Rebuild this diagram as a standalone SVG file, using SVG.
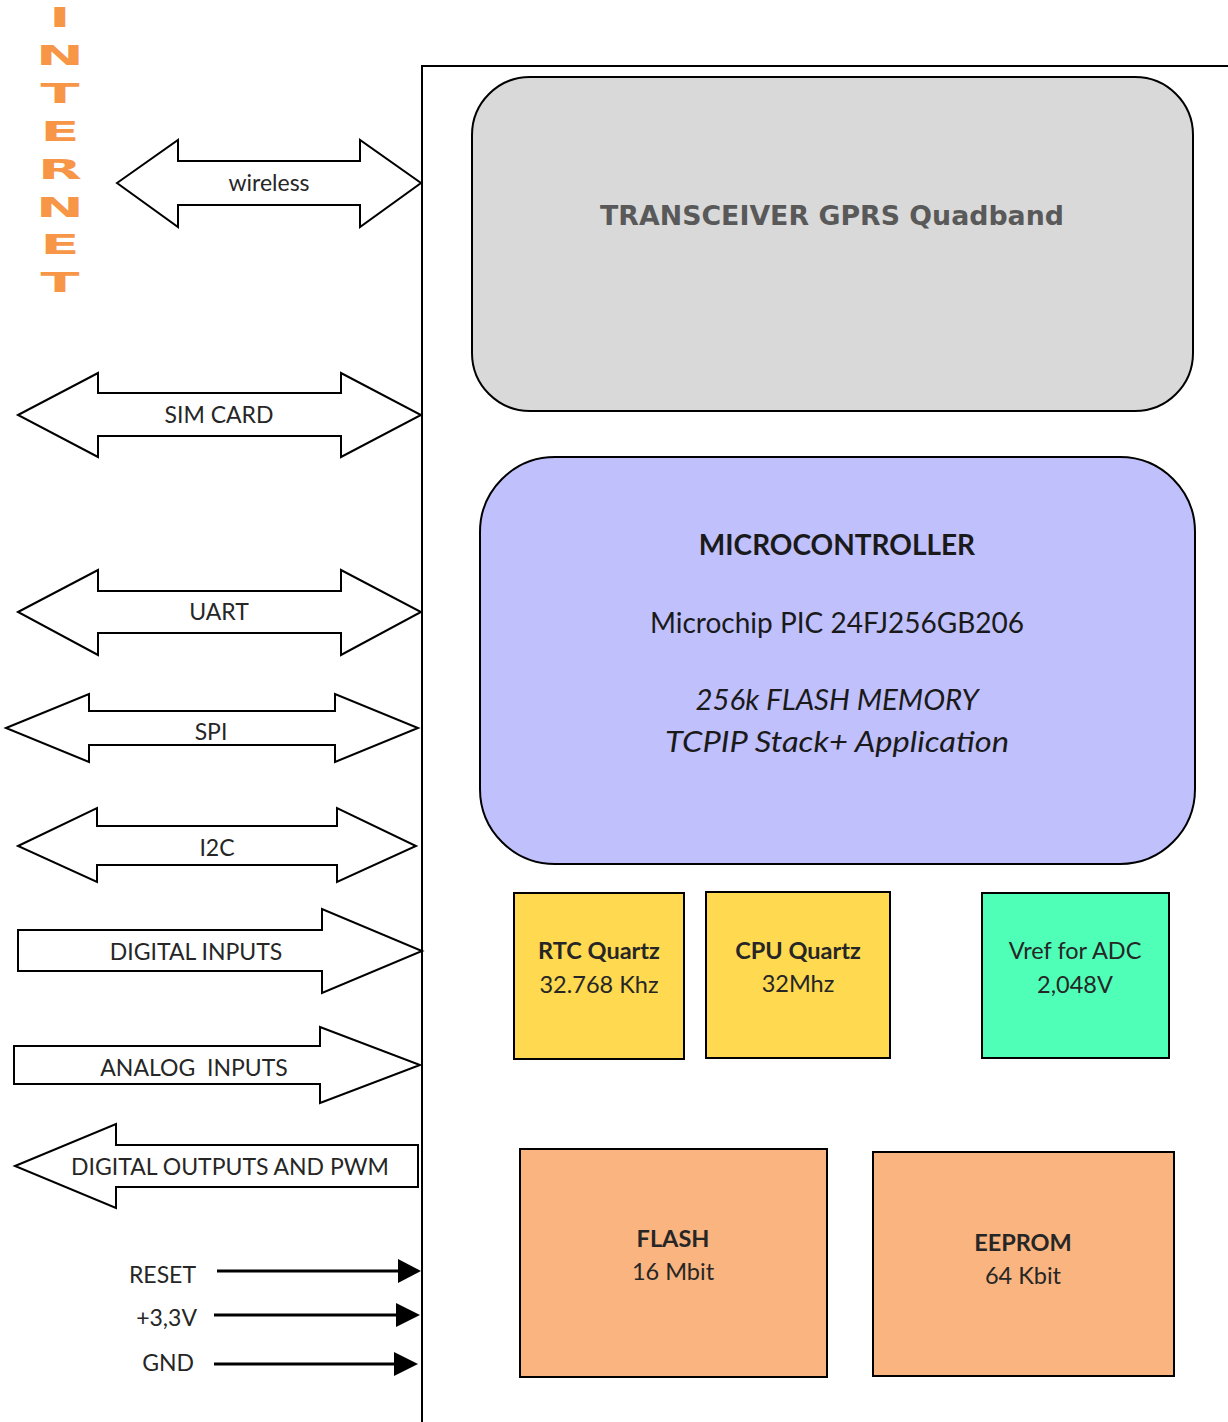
<svg xmlns="http://www.w3.org/2000/svg" width="1228" height="1422" viewBox="0 0 1228 1422">
<style>
.lbl{font-family:Lato,"Liberation Sans",sans-serif;font-size:23px;fill:#262626;text-anchor:middle;dominant-baseline:central}
.end{text-anchor:end}
.big{font-family:Lato,"Liberation Sans",sans-serif;font-size:28px;fill:#1a1a1a;text-anchor:middle}
.box{font-family:Lato,"Liberation Sans",sans-serif;font-size:23.5px;fill:#262626;text-anchor:middle}
.arr{fill:#fff;stroke:#000;stroke-width:2;stroke-linejoin:miter}
.inet{font-family:"DejaVu Sans",sans-serif;font-weight:bold;font-size:26px;fill:#F79646;text-anchor:middle}
.blk{fill:none;stroke:#000;stroke-width:2}
</style>
<g id="internet">
<text class="inet" transform="translate(60,27) scale(2.2,1)">I</text>
<text class="inet" transform="translate(60,65) scale(2.2,1)">N</text>
<text class="inet" transform="translate(60,103) scale(2.2,1)">T</text>
<text class="inet" transform="translate(60,141) scale(2.2,1)">E</text>
<text class="inet" transform="translate(60,179) scale(2.2,1)">R</text>
<text class="inet" transform="translate(60,217) scale(2.2,1)">N</text>
<text class="inet" transform="translate(60,254) scale(2.2,1)">E</text>
<text class="inet" transform="translate(60,292) scale(2.2,1)">T</text>
</g>
<g id="frame">
<path class="blk" d="M422,1422 V66 H1228"/>
</g>
<g id="transceiver">
<rect x="472" y="77" width="721" height="334" rx="58" ry="58" fill="#d9d9d9" stroke="#000" stroke-width="2"/>
<text x="832" y="225" font-family="'DejaVu Sans',sans-serif" font-weight="bold" font-size="26.8" fill="#595959" text-anchor="middle">TRANSCEIVER GPRS Quadband</text>
</g>
<g id="microcontroller">
<rect x="480" y="457" width="715" height="407" rx="75" ry="75" fill="#c0c0fc" stroke="#000" stroke-width="2"/>
<text class="big" x="837" y="555" font-weight="bold" font-size="27">MICROCONTROLLER</text>
<text class="big" x="837" y="633" font-size="28.5">Microchip PIC 24FJ256GB206</text>
<text class="big" x="837" y="710" font-style="italic" font-size="30" textLength="283" lengthAdjust="spacingAndGlyphs">256k FLASH MEMORY</text>
<text class="big" x="837" y="752" font-style="italic" font-size="30" textLength="344" lengthAdjust="spacingAndGlyphs">TCPIP Stack+ Application</text>
</g>
<g id="rtc">
<rect x="514" y="893" width="170" height="166" fill="#FFD94F" stroke="#000" stroke-width="2"/>
<text class="box" x="599" y="959" font-weight="bold">RTC Quartz</text>
<text class="box" x="599" y="993">32.768 Khz</text>
</g>
<g id="cpu">
<rect x="706" y="892" width="184" height="166" fill="#FFD94F" stroke="#000" stroke-width="2"/>
<text class="box" x="798" y="959" font-weight="bold">CPU Quartz</text>
<text class="box" x="798" y="992">32Mhz</text>
</g>
<g id="vref">
<rect x="982" y="893" width="187" height="165" fill="#4FFFB8" stroke="#000" stroke-width="2"/>
<text class="box" x="1075" y="959">Vref for ADC</text>
<text class="box" x="1075" y="993">2,048V</text>
</g>
<g id="flash">
<rect x="520" y="1149" width="307" height="228" fill="#F9B47F" stroke="#000" stroke-width="2"/>
<text class="box" x="673" y="1247" font-weight="bold">FLASH</text>
<text class="box" x="673" y="1280">16 Mbit</text>
</g>
<g id="eeprom">
<rect x="873" y="1152" width="301" height="224" fill="#F9B47F" stroke="#000" stroke-width="2"/>
<text class="box" x="1023" y="1251" font-weight="bold">EEPROM</text>
<text class="box" x="1023" y="1284">64 Kbit</text>
</g>
<g id="connectors">
<g id="wireless">
<path class="arr" d="M117,183 L178,140 V161 H360 V140 L421,183 L360,227 V205 H178 V227 Z"/>
<text class="lbl" x="269" y="182" font-size="25">wireless</text>
</g>
<g id="simcard">
<path class="arr" d="M18,415 L98,373 V393 H341 V373 L421,415 L341,457 V436 H98 V457 Z"/>
<text class="lbl" x="219" y="414">SIM CARD</text>
</g>
<g id="uart">
<path class="arr" d="M18,612 L98,570 V591 H341 V570 L421,612 L341,655 V633 H98 V655 Z"/>
<text class="lbl" x="219" y="611">UART</text>
</g>
<g id="spi">
<path class="arr" d="M6,728 L89,694 V711 H335 V694 L418,728 L335,762 V745 H89 V762 Z"/>
<text class="lbl" x="211" y="731">SPI</text>
</g>
<g id="i2c">
<path class="arr" d="M18,846 L97,808 V826 H337 V808 L416,846 L337,882 V865 H97 V882 Z"/>
<text class="lbl" x="217" y="847">I2C</text>
</g>
<g id="digin">
<path class="arr" d="M18,930 H322 V909 L422,951 L322,993 V971 H18 Z"/>
<text class="lbl" x="196" y="951">DIGITAL INPUTS</text>
</g>
<g id="anain">
<path class="arr" d="M14,1046 H320 V1027 L420,1065 L320,1103 V1084 H14 Z"/>
<text class="lbl" x="194" y="1067" xml:space="preserve">ANALOG  INPUTS</text>
</g>
<g id="digout">
<path class="arr" d="M15,1166 L116,1124 V1145 H418 V1187 H116 V1208 Z"/>
<text class="lbl" x="230" y="1166">DIGITAL OUTPUTS AND PWM</text>
</g>
<g id="reset">
<line x1="217" y1="1271" x2="400" y2="1271" stroke="#000" stroke-width="3"/>
<polygon points="398,1259 421,1271 398,1283" fill="#000"/>
<text class="lbl end" x="196" y="1274">RESET</text>
</g>
<g id="v33">
<line x1="214" y1="1315" x2="398" y2="1315" stroke="#000" stroke-width="3"/>
<polygon points="396,1303 420,1315 396,1327" fill="#000"/>
<text class="lbl end" x="197" y="1317">+3,3V</text>
</g>
<g id="gnd">
<line x1="214" y1="1364" x2="396" y2="1364" stroke="#000" stroke-width="3"/>
<polygon points="394,1352 418,1364 394,1376" fill="#000"/>
<text class="lbl end" x="194" y="1362">GND</text>
</g>
</g>
</svg>
